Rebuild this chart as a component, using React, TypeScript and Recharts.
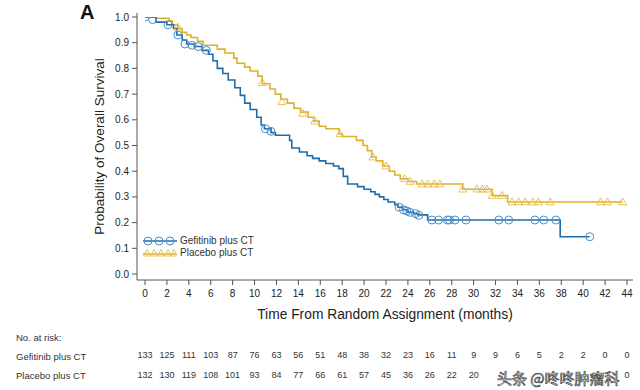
import React from 'react';
import { ComposedChart, Line, Scatter, XAxis, YAxis, Legend, Label } from 'recharts';

// Kaplan-Meier step curves (time in months, survival probability)
const gefitinibCurve = [
  { t: 0, s: 1.0 }, { t: 1.0, s: 0.98 }, { t: 2.0, s: 0.97 }, { t: 2.6, s: 0.955 },
  { t: 2.9, s: 0.93 }, { t: 3.4, s: 0.91 }, { t: 3.8, s: 0.895 }, { t: 4.5, s: 0.885 },
  { t: 5.2, s: 0.87 }, { t: 5.8, s: 0.855 }, { t: 6.2, s: 0.83 }, { t: 6.6, s: 0.8 },
  { t: 7.1, s: 0.78 }, { t: 7.6, s: 0.755 }, { t: 8.2, s: 0.725 }, { t: 8.7, s: 0.695 },
  { t: 9.1, s: 0.665 }, { t: 9.6, s: 0.64 }, { t: 10.2, s: 0.61 }, { t: 10.6, s: 0.58 },
  { t: 10.9, s: 0.565 }, { t: 11.5, s: 0.55 }, { t: 11.9, s: 0.54 }, { t: 13.2, s: 0.52 },
  { t: 13.4, s: 0.49 }, { t: 14.1, s: 0.475 }, { t: 14.8, s: 0.46 }, { t: 15.3, s: 0.45 },
  { t: 15.9, s: 0.44 }, { t: 16.5, s: 0.43 }, { t: 17.2, s: 0.42 }, { t: 17.7, s: 0.41 },
  { t: 18.1, s: 0.38 }, { t: 18.5, s: 0.35 }, { t: 19.4, s: 0.34 }, { t: 20.0, s: 0.33 },
  { t: 20.6, s: 0.32 }, { t: 21.0, s: 0.31 }, { t: 21.4, s: 0.3 }, { t: 21.8, s: 0.29 },
  { t: 22.2, s: 0.28 }, { t: 22.8, s: 0.27 }, { t: 23.1, s: 0.26 }, { t: 23.5, s: 0.25 },
  { t: 24.0, s: 0.24 }, { t: 24.5, s: 0.235 }, { t: 24.9, s: 0.23 }, { t: 25.8, s: 0.21 },
  { t: 37.9, s: 0.145 }, { t: 40.6, s: 0.145 },
];

const placeboCurve = [
  { t: 0, s: 1.0 }, { t: 1.0, s: 0.995 }, { t: 2.2, s: 0.985 }, { t: 2.5, s: 0.97 },
  { t: 3.0, s: 0.955 }, { t: 3.4, s: 0.94 }, { t: 3.8, s: 0.93 }, { t: 4.2, s: 0.92 },
  { t: 4.8, s: 0.905 }, { t: 5.3, s: 0.89 }, { t: 6.6, s: 0.875 }, { t: 7.3, s: 0.86 },
  { t: 8.1, s: 0.84 }, { t: 8.4, s: 0.82 }, { t: 9.1, s: 0.805 }, { t: 9.6, s: 0.79 },
  { t: 10.3, s: 0.77 }, { t: 10.7, s: 0.74 }, { t: 11.4, s: 0.72 }, { t: 11.9, s: 0.7 },
  { t: 12.4, s: 0.68 }, { t: 13.0, s: 0.665 }, { t: 13.6, s: 0.645 }, { t: 14.2, s: 0.63 },
  { t: 14.9, s: 0.61 }, { t: 15.4, s: 0.595 }, { t: 15.9, s: 0.575 }, { t: 16.5, s: 0.565 },
  { t: 17.7, s: 0.545 }, { t: 18.0, s: 0.535 }, { t: 19.3, s: 0.52 }, { t: 19.9, s: 0.5 },
  { t: 20.3, s: 0.48 }, { t: 20.7, s: 0.455 }, { t: 21.1, s: 0.44 }, { t: 21.7, s: 0.42 },
  { t: 22.3, s: 0.4 }, { t: 22.8, s: 0.385 }, { t: 23.3, s: 0.37 }, { t: 24.0, s: 0.36 },
  { t: 24.8, s: 0.35 }, { t: 29.0, s: 0.33 }, { t: 31.7, s: 0.305 }, { t: 33.1, s: 0.28 },
  { t: 43.6, s: 0.28 },
];

// Censored observations
const gefitinibCensored = [
  { t: 0, s: 1.0 }, { t: 0.7, s: 0.99 }, { t: 2.1, s: 0.97 }, { t: 3.0, s: 0.93 },
  { t: 3.65, s: 0.895 }, { t: 4.3, s: 0.89 }, { t: 4.85, s: 0.885 }, { t: 5.6, s: 0.87 },
  { t: 11.0, s: 0.565 }, { t: 11.5, s: 0.555 },
  { t: 23.2, s: 0.26 }, { t: 23.6, s: 0.25 }, { t: 23.9, s: 0.245 }, { t: 24.2, s: 0.24 },
  { t: 24.7, s: 0.235 }, { t: 25.0, s: 0.228 },
  { t: 26.2, s: 0.21 }, { t: 26.8, s: 0.21 }, { t: 27.6, s: 0.21 }, { t: 27.8, s: 0.21 },
  { t: 28.3, s: 0.21 }, { t: 29.3, s: 0.21 }, { t: 32.3, s: 0.21 }, { t: 33.2, s: 0.21 },
  { t: 35.6, s: 0.21 }, { t: 36.4, s: 0.21 }, { t: 37.5, s: 0.21 }, { t: 40.6, s: 0.145 },
];

const placeboCensored = [
  { t: 3.0, s: 0.96 }, { t: 10.7, s: 0.745 }, { t: 12.5, s: 0.67 }, { t: 14.4, s: 0.625 },
  { t: 15.5, s: 0.595 }, { t: 17.8, s: 0.545 }, { t: 20.8, s: 0.455 }, { t: 22.0, s: 0.42 },
  { t: 23.7, s: 0.37 }, { t: 24.2, s: 0.36 }, { t: 25.3, s: 0.35 }, { t: 25.8, s: 0.35 },
  { t: 26.4, s: 0.35 }, { t: 26.9, s: 0.35 }, { t: 29.0, s: 0.33 }, { t: 30.3, s: 0.33 },
  { t: 30.8, s: 0.33 }, { t: 31.2, s: 0.33 }, { t: 31.7, s: 0.305 }, { t: 32.6, s: 0.305 },
  { t: 33.5, s: 0.28 }, { t: 34.1, s: 0.28 }, { t: 34.7, s: 0.28 }, { t: 35.4, s: 0.28 },
  { t: 35.9, s: 0.28 }, { t: 37.0, s: 0.28 }, { t: 41.6, s: 0.28 }, { t: 42.2, s: 0.28 },
  { t: 43.6, s: 0.28 },
];

const monthTicks = [0, 2, 4, 6, 8, 10, 12, 14, 16, 18, 20, 22, 24, 26, 28, 30, 32, 34, 36, 38, 40, 42, 44];
const survivalTicks = [0, 0.1, 0.2, 0.3, 0.4, 0.5, 0.6, 0.7, 0.8, 0.9, 1.0];
const gefitinibAtRisk: (number | null)[] = [133, 125, 111, 103, 87, 76, 63, 56, 51, 48, 38, 32, 23, 16, 11, 9, 9, 6, 5, 2, 2, 0, 0];
const placeboAtRisk: (number | null)[] = [132, 130, 119, 108, 101, 93, 84, 77, 66, 61, 57, 45, 36, 26, 22, 20, null, null, null, null, null, null, 0];

// invisible anchor data so the at-risk axes have a series attached
const axisAnchor = [{ t: 0, s: 0 }, { t: 44, s: 0 }];

const BLUE = '#1f6cab';
const BLUE_MARK = '#4a8ec8';
const GOLD = '#dfb12a';
const GOLD_MARK = '#e8c258';
const FONT = '"Liberation Sans", Arial, sans-serif';

const Circle = (props: any) => {
  const { cx, cy } = props;
  if (cx == null || cy == null) return null;
  return <circle cx={cx} cy={cy} r={4} fill="none" stroke={BLUE_MARK} strokeWidth={1} />;
};

const Triangle = (props: any) => {
  const { cx, cy } = props;
  if (cx == null || cy == null) return null;
  const h = 7;
  return (
    <path
      d={`M${cx},${cy - h * 0.6} L${cx + 4},${cy + h * 0.4} L${cx - 4},${cy + h * 0.4} Z`}
      fill="none"
      stroke={GOLD_MARK}
      strokeWidth={1}
    />
  );
};

const LegendContent = () => (
  <div style={{ fontFamily: FONT, fontSize: 10, color: '#333', lineHeight: '12px' }}>
    <div style={{ display: 'flex', alignItems: 'center', height: 12 }}>
      <svg width={34} height={10} style={{ marginRight: 3 }}>
        <line x1={0} y1={5} x2={34} y2={5} stroke={BLUE} strokeWidth={1.5} />
        {[5, 16, 27].map((x) => (
          <circle key={x} cx={x} cy={5} r={4} fill="none" stroke={BLUE_MARK} strokeWidth={1} />
        ))}
      </svg>
      <span>Gefitinib plus CT</span>
    </div>
    <div style={{ display: 'flex', alignItems: 'center', height: 12 }}>
      <svg width={34} height={10} style={{ marginRight: 3 }}>
        <line x1={0} y1={6} x2={34} y2={6} stroke={GOLD} strokeWidth={1.5} />
        {[4, 11, 18, 25, 31].map((x) => (
          <path key={x} d={`M${x},1.5 L${x + 3.5},8 L${x - 3.5},8 Z`} fill="none" stroke={GOLD_MARK} strokeWidth={1} />
        ))}
      </svg>
      <span>Placebo plus CT</span>
    </div>
  </div>
);

const atRiskFormatter = (arr: (number | null)[]) => (v: number) => {
  const i = monthTicks.indexOf(v);
  const val = i >= 0 ? arr[i] : null;
  return val == null ? '' : String(val);
};

export default function App() {
  const textStyle: React.CSSProperties = { position: 'absolute', fontFamily: FONT, color: '#333', whiteSpace: 'nowrap' };
  return (
    <div style={{ position: 'absolute', left: 0, top: 0, width: 640, height: 390, background: '#fff' }}>
      <ComposedChart width={640} height={390} margin={{ top: 13, right: 7, bottom: 14, left: 0 }}>
        <XAxis
          xAxisId={0}
          dataKey="t"
          type="number"
          domain={[0, 44]}
          allowDataOverflow
          ticks={monthTicks}
          interval={0}
          padding={{ left: 8, right: 6 }}
          height={42}
          tickSize={5}
          tickMargin={5}
          stroke="#555"
          tick={{ fill: '#222', fontSize: 10, fontFamily: FONT }}
        >
          <Label
            value="Time From Random Assignment (months)"
            position="insideBottom"
            offset={3}
            style={{ fontSize: 13.8, fontFamily: FONT, fill: '#222' }}
          />
        </XAxis>
        <XAxis
          xAxisId="g"
          dataKey="t"
          type="number"
          domain={[0, 44]}
          allowDataOverflow
          ticks={monthTicks}
          interval={0}
          padding={{ left: 8, right: 6 }}
          height={34}
          axisLine={false}
          tickLine={false}
          tickSize={0}
          tickMargin={30}
          tickFormatter={atRiskFormatter(gefitinibAtRisk)}
          tick={{ fill: '#333', fontSize: 9, fontFamily: FONT }}
        />
        <XAxis
          xAxisId="p"
          dataKey="t"
          type="number"
          domain={[0, 44]}
          allowDataOverflow
          ticks={monthTicks}
          interval={0}
          padding={{ left: 8, right: 6 }}
          height={20}
          axisLine={false}
          tickLine={false}
          tickSize={0}
          tickMargin={16}
          tickFormatter={atRiskFormatter(placeboAtRisk)}
          tick={{ fill: '#333', fontSize: 9, fontFamily: FONT }}
        />
        <YAxis
          dataKey="s"
          type="number"
          domain={[0, 1]}
          allowDataOverflow
          ticks={survivalTicks}
          interval={0}
          tickFormatter={(v: number) => v.toFixed(1)}
          padding={{ top: 4, bottom: 6 }}
          width={137}
          tickSize={5}
          tickMargin={3}
          stroke="#555"
          tick={{ fill: '#222', fontSize: 10, fontFamily: FONT }}
        >
          <Label
            value="Probability of Overall Survival"
            angle={-90}
            position="center"
            dx={31}
            style={{ fontSize: 13.5, fontFamily: FONT, fill: '#222', textAnchor: 'middle' }}
          />
        </YAxis>
        <Legend
          layout="vertical"
          align="center"
          verticalAlign="middle"
          content={<LegendContent />}
          wrapperStyle={{ left: 143, top: 235, width: 'auto', height: 'auto' }}
        />
        <Line
          xAxisId="g"
          data={axisAnchor}
          dataKey="s"
          stroke="none"
          dot={false}
          activeDot={false}
          isAnimationActive={false}
          legendType="none"
        />
        <Line
          xAxisId="p"
          data={axisAnchor}
          dataKey="s"
          stroke="none"
          dot={false}
          activeDot={false}
          isAnimationActive={false}
          legendType="none"
        />
        <Line
          data={placeboCurve}
          dataKey="s"
          type="stepAfter"
          stroke={GOLD}
          strokeWidth={1.6}
          dot={false}
          activeDot={false}
          isAnimationActive={false}
          legendType="none"
        />
        <Line
          data={gefitinibCurve}
          dataKey="s"
          type="stepAfter"
          stroke={BLUE}
          strokeWidth={1.6}
          dot={false}
          activeDot={false}
          isAnimationActive={false}
          legendType="none"
        />
        <Scatter data={placeboCensored} dataKey="s" shape={<Triangle />} isAnimationActive={false} legendType="none" />
        <Scatter data={gefitinibCensored} dataKey="s" shape={<Circle />} isAnimationActive={false} legendType="none" />
      </ComposedChart>

      <div style={{ ...textStyle, left: 80, top: 1, fontSize: 20, fontWeight: 'bold', color: '#111' }}>A</div>
      <div style={{ ...textStyle, left: 16, top: 332, fontSize: 9.5 }}>No. at risk:</div>
      <div style={{ ...textStyle, left: 16, top: 351, fontSize: 9.5 }}>Gefitinib plus CT</div>
      <div style={{ ...textStyle, left: 16, top: 370, fontSize: 9.5 }}>Placebo plus CT</div>
      <div
        style={{
          ...textStyle,
          left: 497,
          top: 367,
          fontSize: 15,
          fontFamily: '"Noto Sans CJK SC", sans-serif',
          color: '#fff',
          WebkitTextStroke: '0.7px #444',
        }}
      >
        头条 @咚咚肿瘤科
      </div>
    </div>
  );
}
